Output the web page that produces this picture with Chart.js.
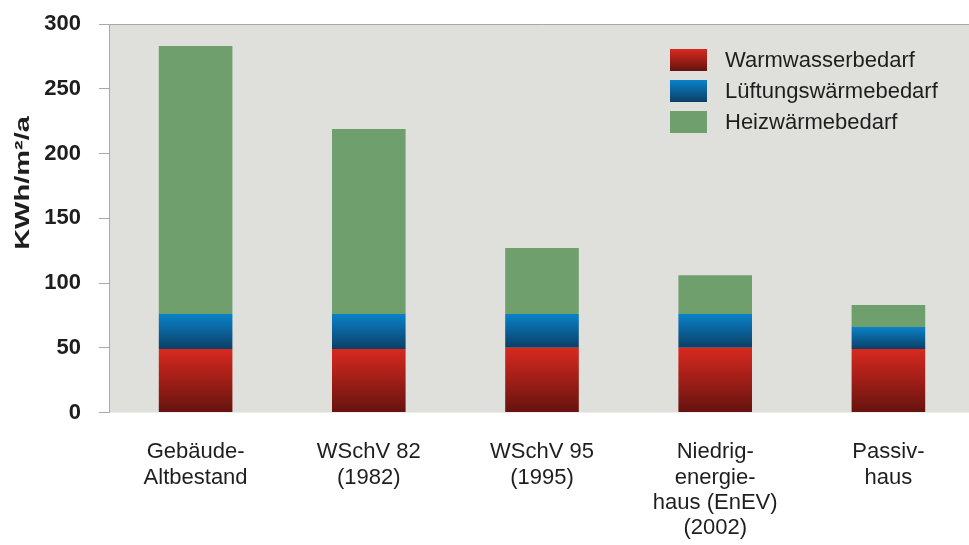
<!DOCTYPE html>
<html>
<head>
<meta charset="utf-8">
<script src="https://cdn.jsdelivr.net/npm/chart.js@4.4.1/dist/chart.umd.min.js"></script>
<style>
  body { margin:0; background:#fff; overflow:hidden; }
  #wrap { width:975px; height:545px; }
</style>
</head>
<body>
<div id="wrap"><canvas id="chart" width="975" height="545"></canvas></div>
<script>
// data
const categories = [
    ['Gebäude-', 'Altbestand'],
    ['WSchV 82', '(1982)'],
    ['WSchV 95', '(1995)'],
    ['Niedrig-', 'energie-', 'haus (EnEV)', '(2002)'],
    ['Passiv-', 'haus']
];
const warmwasser = [49, 49, 50, 50, 49];
const lueftung   = [27, 27, 26, 26, 17];
const heizwaerme = [207, 143, 51, 30, 17];
const yTicks = [0, 50, 100, 150, 200, 250, 300];
const yTitle = 'KWh/m²/a';

const FONT = '"Liberation Sans", Arial, sans-serif';
const seriesData = [warmwasser, lueftung, heizwaerme];

// top/bottom colours for the gradients
const shades = [
    ['#d8291f', '#65130f'],
    ['#0a82c9', '#0b3f66'],
    ['#6f9f6c', '#6f9f6c']
];

const gradFill = (ctx) => {
    const chart = ctx.chart;
    const ds = ctx.datasetIndex;
    const i = ctx.dataIndex;
    if (!chart.chartArea || i === undefined) return shades[ds][0];
    let base = 0;
    for (let k = 0; k < ds; k++) base += seriesData[k][i];
    const top = base + seriesData[ds][i];
    const ys = chart.scales.y;
    const g = chart.ctx.createLinearGradient(0, ys.getPixelForValue(top), 0, ys.getPixelForValue(base));
    g.addColorStop(0, shades[ds][0]);
    g.addColorStop(1, shades[ds][1]);
    return g;
};

const plotBg = {
    id: 'plotBg',
    beforeDraw(chart) {
        const {ctx, chartArea: a} = chart;
        ctx.save();
        ctx.fillStyle = '#dfdfdb';
        ctx.fillRect(a.left, a.top, a.right - a.left, a.bottom - a.top);
        ctx.strokeStyle = '#a9a9a9';
        ctx.lineWidth = 1;
        ctx.beginPath();
        ctx.moveTo(a.left + 0.5, a.bottom);
        ctx.lineTo(a.left + 0.5, a.top + 0.5);
        ctx.lineTo(a.right, a.top + 0.5);
        ctx.stroke();
        ctx.restore();
    }
};

// axis title is a bit stretched in the original, so drawn here
const axisTitle = {
    id: 'axisTitle',
    afterDraw(chart) {
        const ctx = chart.ctx;
        ctx.save();
        ctx.translate(23, 183);
        ctx.rotate(-Math.PI / 2);
        ctx.scale(1.38, 1);
        ctx.font = 'bold 21px ' + FONT;
        ctx.fillStyle = '#1e1e1e';
        ctx.textAlign = 'center';
        ctx.textBaseline = 'middle';
        ctx.fillText(yTitle, 0, 0);
        ctx.restore();
    }
};

const boxLegend = {
    id: 'boxLegend',
    afterDraw(chart) {
        const ctx = chart.ctx;
        ctx.save();
        chart.data.datasets.forEach((d, k) => {
            const yc = 60 + k * 31;
            const g = ctx.createLinearGradient(0, yc - 11, 0, yc + 11);
            g.addColorStop(0, shades[k][0]);
            g.addColorStop(1, shades[k][1]);
            ctx.fillStyle = g;
            ctx.fillRect(670, yc - 11, 37, 22);
            ctx.fillStyle = '#1e1e1e';
            ctx.font = '22px ' + FONT;
            ctx.textBaseline = 'middle';
            ctx.textAlign = 'left';
            ctx.fillText(d.label, 725, yc + 1);
        });
        ctx.restore();
    }
};

new Chart(document.getElementById('chart'), {
    type: 'bar',
    data: {
        labels: categories,
        datasets: [
            { label: 'Warmwasserbedarf', data: warmwasser, backgroundColor: gradFill },
            { label: 'Lüftungswärmebedarf', data: lueftung, backgroundColor: gradFill },
            { label: 'Heizwärmebedarf', data: heizwaerme, backgroundColor: gradFill }
        ]
    },
    options: {
        responsive: false,
        animation: false,
        layout: { padding: { top: 24, right: 0, left: 0, bottom: 0 } },
        datasets: { bar: { categoryPercentage: 1, barPercentage: 0.425 } },
        plugins: { legend: { display: false }, tooltip: { enabled: false } },
        scales: {
            x: {
                stacked: true,
                grid: { display: false, drawTicks: false },
                border: { display: false },
                afterFit: s => { s.height = 132.5; s.paddingLeft = 0; s.paddingRight = 0; },
                ticks: {
                    padding: 27,
                    color: '#1e1e1e',
                    font: { family: FONT, size: 22, lineHeight: 1.15 },
                    maxRotation: 0
                }
            },
            y: {
                stacked: true,
                min: 0,
                max: 300,
                afterFit: s => { s.width = 109; s.paddingTop = 0; s.paddingBottom = 0; },
                afterBuildTicks: s => { s.ticks = yTicks.map(v => ({ value: v })); },
                grid: { drawOnChartArea: false, drawTicks: true, tickLength: 10, color: '#a9a9a9' },
                border: { display: true, color: '#a9a9a9' },
                ticks: {
                    padding: 18,
                    color: '#1e1e1e',
                    font: { family: FONT, size: 22, weight: 'bold' }
                }
            }
        }
    },
    plugins: [plotBg, axisTitle, boxLegend]
});
</script>
</body>
</html>
